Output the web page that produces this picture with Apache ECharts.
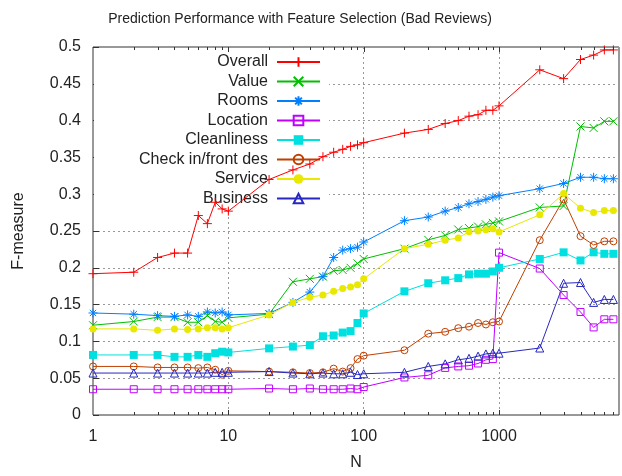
<!DOCTYPE html>
<html><head><meta charset="utf-8">
<script src="https://cdn.jsdelivr.net/npm/echarts@6/dist/echarts.min.js"></script>
<style>html,body{margin:0;padding:0;background:#fff}#c{width:622px;height:476px}</style>
</head><body><div id="c"></div>
<script>
const N = [1,2,3,4,5,6,7,8,9,10,20,30,40,50,60,70,80,90,100,200,300,400,500,600,700,800,900,1000,2000,3000,4000,5000,6000,7000];
const overallVals = [0.192,0.194,0.214,0.22,0.22,0.271,0.26,0.289,0.28,0.277,0.32,0.333,0.341,0.351,0.357,0.361,0.365,0.367,0.37,0.383,0.388,0.396,0.400,0.406,0.408,0.414,0.414,0.42,0.469,0.457,0.483,0.489,0.496,0.496];
const valueVals = [0.122,0.127,0.133,0.133,0.126,0.126,0.135,0.127,0.126,0.132,0.137,0.181,0.185,0.188,0.196,0.197,0.2,0.206,0.212,0.226,0.238,0.244,0.252,0.254,0.256,0.259,0.261,0.263,0.282,0.284,0.392,0.39,0.399,0.399];
const roomsVals = [0.1386,0.137,0.135,0.134,0.136,0.134,0.140,0.1386,0.140,0.136,0.138,0.153,0.167,0.188,0.214,0.224,0.226,0.228,0.235,0.264,0.269,0.277,0.282,0.287,0.29,0.293,0.296,0.298,0.3075,0.3146,0.323,0.323,0.321,0.321];
const locationVals = [0.035,0.035,0.035,0.035,0.035,0.035,0.035,0.035,0.035,0.035,0.036,0.035,0.036,0.035,0.035,0.035,0.036,0.035,0.038,0.051,0.054,0.064,0.066,0.067,0.070,0.075,0.076,0.2206,0.199,0.163,0.140,0.119,0.130,0.130];
const cleanlinessVals = [0.0816,0.0816,0.0816,0.079,0.079,0.0816,0.079,0.084,0.086,0.085,0.0905,0.093,0.095,0.107,0.108,0.112,0.114,0.125,0.138,0.168,0.179,0.183,0.186,0.191,0.192,0.192,0.195,0.2,0.212,0.221,0.21,0.221,0.219,0.219];
const checkinVals = [0.066,0.066,0.0646,0.0646,0.0646,0.0637,0.0646,0.0615,0.0548,0.060,0.059,0.058,0.057,0.058,0.063,0.059,0.0637,0.076,0.0806,0.088,0.1105,0.113,0.118,0.12,0.125,0.123,0.126,0.127,0.2375,0.293,0.243,0.231,0.236,0.236];
const serviceVals = [0.117,0.117,0.115,0.117,0.116,0.117,0.1186,0.1186,0.117,0.1186,0.136,0.153,0.16,0.163,0.168,0.172,0.174,0.177,0.185,0.226,0.232,0.2375,0.2406,0.249,0.25,0.2517,0.253,0.2487,0.272,0.3008,0.281,0.275,0.2777,0.2777];
const businessVals = [0.057,0.057,0.057,0.057,0.057,0.057,0.057,0.058,0.058,0.058,0.059,0.057,0.056,0.057,0.056,0.056,0.058,0.055,0.056,0.058,0.066,0.0695,0.075,0.077,0.08,0.083,0.084,0.084,0.091,0.179,0.18,0.153,0.157,0.157];
const X_LABELS = [1,10,100,1000];
const MAJOR_X = [10,100,1000];
const MINOR_X = [2,3,4,5,6,7,8,9,20,30,40,50,60,70,80,90,200,300,400,500,600,700,800,900,2000,3000,4000,5000,6000,7000];

const FONT = '"Liberation Sans", Arial, sans-serif';
const PLUS = 'path://M0,5L10,5M5,0L5,10';
const CROSS = 'path://M1,1L9,9M1,9L9,1';
const STAR = 'path://M0,5L10,5M5,0L5,10M1.5,1.5L8.5,8.5M1.5,8.5L8.5,1.5';
const NONE = 'rgba(0,0,0,0)';

function mk(name, data, color, symbol, size, filled) {
  return {
    type: 'line', name, data: N.map((n, i) => [n, data[i]]),
    color, symbol, symbolSize: size, showAllSymbol: true, z: 2,
    lineStyle: {color, width: 1},
    itemStyle: filled ? {color, borderColor: color, borderWidth: filled === 'stroke' ? 1 : 0}
                      : {color: NONE, borderColor: color, borderWidth: 1},
    emphasis: {disabled: true}, animation: false
  };
}

const tickData = MINOR_X.map(v => [v, 3]).concat(MAJOR_X.map(v => [v, 5]));

const chart = echarts.init(document.getElementById('c'), null, {renderer: 'canvas'});
chart.setOption({
  animation: false,
  backgroundColor: '#fff',
  title: {text: 'Prediction Performance with Feature Selection (Bad Reviews)', left: 300, top: 12, padding: 0, textAlign: 'center',
    textStyle: {fontFamily: FONT, fontSize: 14, fontWeight: 'normal', color: '#222'}},
  grid: {left: 93, top: 47, bottom: 55, right: -2, show: true, borderColor: '#333', borderWidth: 1, backgroundColor: NONE},
  legend: {
    orient: 'vertical', left: 94, top: 48, align: 'right', z: 1,
    backgroundColor: '#fff', padding: [6, 8, 2, 39],
    itemWidth: 43, itemHeight: 12, itemGap: 3.5,
    selectedMode: false,
    textStyle: {fontFamily: FONT, fontSize: 16, color: '#222', width: 135, align: 'right', lineHeight: 16, padding: [0, 4, 0, 0]},
    data: ['Overall','Value','Rooms','Location','Cleanliness','Check in/front des','Service','Business']
  },
  xAxis: {
    type: 'log', logBase: 10, min: 1, max: 7700,
    name: 'N', nameLocation: 'middle', nameGap: 40,
    nameTextStyle: {fontFamily: FONT, fontSize: 16, color: '#222'},
    axisLine: {show: false},
    axisTick: {show: false},
    minorTick: {show: false},
    axisLabel: {fontFamily: FONT, fontSize: 16, color: '#222', margin: 14,
      formatter: v => X_LABELS.indexOf(Math.round(v)) >= 0 && Math.abs(v - Math.round(v)) < 1e-6 ? String(Math.round(v)) : ''},
    splitLine: {show: true, lineStyle: {color: '#999', type: [2, 3], width: 1}}
  },
  yAxis: {
    type: 'value', min: 0, max: 0.5, interval: 0.05,
    name: 'F-measure', nameLocation: 'middle', nameGap: 66, nameRotate: 90,
    nameTextStyle: {fontFamily: FONT, fontSize: 16, color: '#222'},
    axisLine: {show: false},
    axisTick: {show: true, inside: true, length: 6, lineStyle: {color: '#333'}},
    axisLabel: {fontFamily: FONT, fontSize: 16, color: '#222', margin: 12},
    splitLine: {show: true, lineStyle: {color: '#999', type: [2, 3], width: 1}}
  },
  series: [
    mk('Overall', overallVals, '#ff0000', PLUS, 9, 'stroke'),
    mk('Value', valueVals, '#00c000', CROSS, 8, 'stroke'),
    mk('Rooms', roomsVals, '#0080ff', STAR, 9, 'stroke'),
    mk('Location', locationVals, '#c000ff', 'rect', 7, false),
    mk('Cleanliness', cleanlinessVals, '#00e0e0', 'rect', 8, true),
    mk('Check in/front des', checkinVals, '#c04000', 'circle', 7, false),
    mk('Service', serviceVals, '#e8e800', 'circle', 7, true),
    mk('Business', businessVals, '#2828c0', 'triangle', 8, false),
    {
      type: 'custom', name: 'xticks', silent: true, z: 3, animation: false,
      data: tickData,
      renderItem: function (params, api) {
        const v = api.value(0), len = api.value(1);
        const b = api.coord([v, 0]);
        const t = api.coord([v, 0.5]);
        const x = Math.round(b[0]) + 0.5;
        return {type: 'group', children: [
          {type: 'line', shape: {x1: x, y1: b[1], x2: x, y2: b[1] - len}, style: {stroke: '#333', lineWidth: 1}},
          {type: 'line', shape: {x1: x, y1: t[1], x2: x, y2: t[1] + len}, style: {stroke: '#333', lineWidth: 1}}
        ]};
      }
    }
  ]
});
</script></body></html>
